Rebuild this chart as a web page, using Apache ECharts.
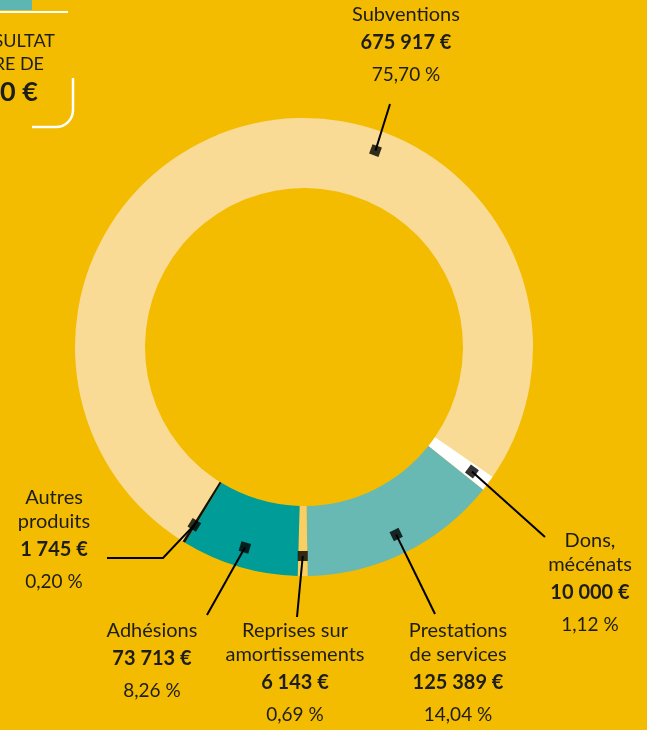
<!DOCTYPE html>
<html>
<head>
<meta charset="utf-8">
<script src="https://cdn.jsdelivr.net/npm/echarts@6/dist/echarts.min.js"></script>
<style>
  html, body { margin: 0; padding: 0; background: #f4bc00; }
  #chart { width: 647px; height: 730px; }
</style>
</head>
<body>
<div id="chart"></div>
<script>
// produits, dans l'ordre horaire du graphique
var categories = ['Subventions', 'Dons,\nmécénats', 'Prestations\nde services', 'Reprises sur\namortissements', 'Adhésions', 'Autres\nproduits'];
var values = [675917, 10000, 125389, 6143, 73713, 1745];
var colors = ['#f9db95', '#ffffff', '#68b8b3', '#f9ce62', '#009c97', '#111111'];

// mise en page (pas des données)
var CX = 304, CY = 347, R_IN = 159, R_OUT = 229;
var START = 238;           // angle de départ echarts (degrés, sens trigo)
var MARK_R = 209;          // rayon des petits carrés
var labelX = [406, 590, 458, 295, 152, 54];
var labelY = [3, 529, 619, 619, 619, 486];
var lineEnd = [[390, 104], [545, 537], [435, 614], [297, 617], [207, 615], [107, 558]];
var lineElbow = [null, null, null, null, null, [163, 558]];
var markAngleOverride = [20, null, null, null, null, null];

var total = values.reduce(function (a, b) { return a + b; }, 0);

// angle horaire depuis le haut du milieu de chaque part
var markAngles = [];
var acc = 90 - START;
for (var i = 0; i < values.length; i++) {
  var sweep = values[i] / total * 360;
  var mid = acc + sweep / 2;
  acc += sweep;
  var a = markAngleOverride[i] != null ? markAngleOverride[i] : mid;
  markAngles.push(((a % 360) + 360) % 360);
}

function markPoint(i) {
  var t = markAngles[i] * Math.PI / 180;
  return [CX + MARK_R * Math.sin(t), CY - MARK_R * Math.cos(t)];
}

function fmtEuro(v) {
  return String(v).replace(/\B(?=(\d{3})+(?!\d))/g, ' ') + ' €';
}
function fmtPct(v) {
  return (v / total * 100).toFixed(2).replace('.', ',') + ' %';
}

var FONT = 'Lato, "Noto Sans", sans-serif';
var TXT = '#1d1d1b';

var pieData = categories.map(function (c, i) {
  return { name: c, value: values[i], itemStyle: { color: colors[i] } };
});

var chart = echarts.init(document.getElementById('chart'));
chart.setOption({
  backgroundColor: '#f4bc00',
  animation: false,
  polar: { center: [CX, CY], radius: R_OUT },
  angleAxis: { type: 'value', min: 0, max: 360, startAngle: 90, clockwise: true, show: false },
  radiusAxis: { type: 'value', min: 0, max: R_OUT, show: false },
  graphic: [
    { type: 'rect', shape: { x: 0, y: 0, width: 32, height: 10 }, style: { fill: '#5db6b1' } },
    { type: 'line', shape: { x1: 0, y1: 12, x2: 68, y2: 12 }, style: { stroke: '#fff', lineWidth: 2 } },
    { type: 'text', x: 55, y: 41, style: { text: 'RÉSULTAT', font: '18px ' + FONT, fill: TXT, align: 'right', verticalAlign: 'middle' } },
    { type: 'text', x: 44, y: 64, style: { text: 'EXCÉDENTAIRE DE', font: '18px ' + FONT, fill: TXT, align: 'right', verticalAlign: 'middle' } },
    { type: 'text', x: 38, y: 92, style: { text: '0 €', font: 'bold 27px ' + FONT, fill: TXT, align: 'right', verticalAlign: 'middle' } },
    { type: 'polyline', shape: { points: [[73, 78], [73, 110]] }, style: { stroke: '#fff', lineWidth: 2.5, fill: null } },
    { type: 'arc', shape: { cx: 56, cy: 110, r: 17, startAngle: 0, endAngle: Math.PI / 2 }, style: { stroke: '#fff', lineWidth: 2.5, fill: null } },
    { type: 'polyline', shape: { points: [[56, 127], [32, 127]] }, style: { stroke: '#fff', lineWidth: 2.5, fill: null } }
  ],
  series: [
    {
      // l'anneau
      type: 'pie',
      center: [CX, CY],
      radius: [R_IN, R_OUT],
      startAngle: START,
      clockwise: true,
      silent: true,
      z: 1,
      label: { show: false },
      labelLine: { show: false },
      data: pieData
    },
    {
      // même données, parts transparentes : seulement étiquettes + traits au-dessus
      type: 'pie',
      center: [CX, CY],
      radius: [R_IN, R_OUT],
      startAngle: START,
      clockwise: true,
      avoidLabelOverlap: false,
      silent: true,
      z: 4,
      itemStyle: { color: 'rgba(0,0,0,0)' },
      data: categories.map(function (c, i) { return { name: c, value: values[i] }; }),
      label: {
        show: true,
        position: 'outside',
        fontFamily: FONT,
        fontSize: 20,
        lineHeight: 24,
        color: TXT,
        align: 'center',
        formatter: function (p) {
          return p.name + '\n{v|' + fmtEuro(p.value) + '}\n{p|' + fmtPct(p.value) + '}';
        },
        rich: {
          v: { fontFamily: FONT, fontWeight: 'bold', fontSize: 20, lineHeight: 31, color: TXT, align: 'center' },
          p: { fontFamily: FONT, fontWeight: 'normal', fontSize: 19, lineHeight: 34, color: TXT, align: 'center' }
        }
      },
      labelLine: { show: true, length: 10, length2: 10, smooth: false, lineStyle: { color: '#000', width: 2 } },
      labelLayout: function (p) {
        var i = p.dataIndex;
        var s = markPoint(i);
        var e = lineEnd[i];
        var m = lineElbow[i] || [(s[0] + e[0]) / 2, (s[1] + e[1]) / 2];
        return {
          x: labelX[i],
          y: labelY[i],
          align: 'center',
          verticalAlign: 'top',
          labelLinePoints: [s, m, e]
        };
      }
    },
    {
      type: 'scatter',
      coordinateSystem: 'polar',
      silent: true,
      symbol: 'rect',
      symbolSize: 10,
      itemStyle: { color: '#000' },
      z: 5,
      data: markAngles.map(function (a) {
        return { value: [MARK_R, a], symbolRotate: -a };
      })
    }
  ]
});
</script>
</body>
</html>
